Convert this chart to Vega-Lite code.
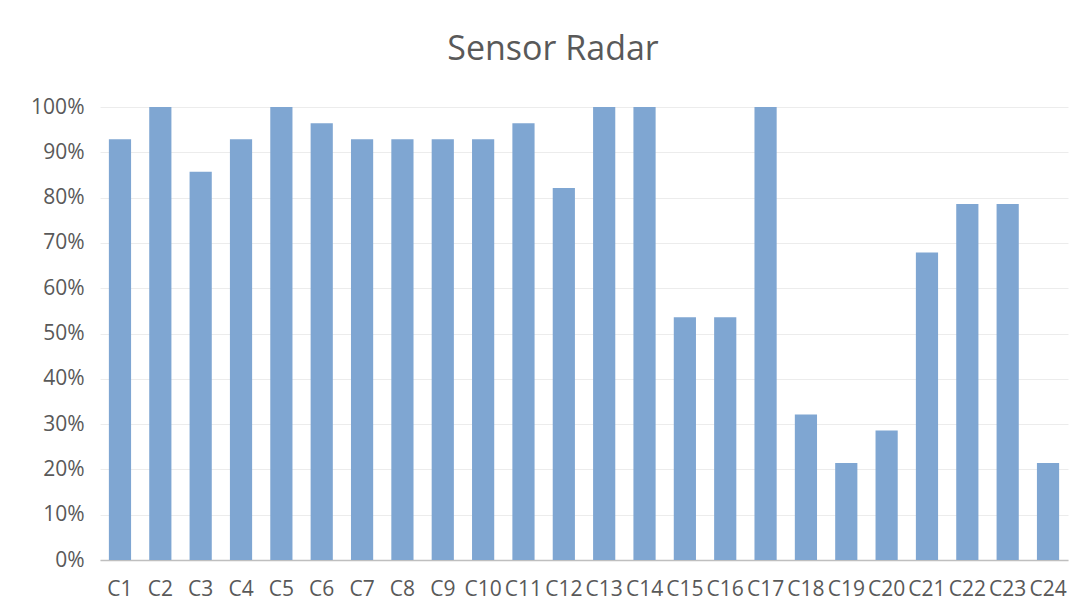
{
  "$schema": "https://vega.github.io/schema/vega-lite/v6.json",
  "width": 968,
  "height": 453,
  "autosize": {"type": "none"},
  "padding": {"left": 100, "top": 107, "right": 20, "bottom": 55},
  "background": "white",
  "title": {"text": "Sensor Radar", "fontSize": 34, "font": "Open Sans", "fontWeight": "normal", "color": "#595959", "anchor": "middle", "offset": 29, "dx": -31},
  "data": {"values": [
    {"c": "C1", "v": 0.929}, {"c": "C2", "v": 1.0}, {"c": "C3", "v": 0.857}, {"c": "C4", "v": 0.929},
    {"c": "C5", "v": 1.0}, {"c": "C6", "v": 0.964}, {"c": "C7", "v": 0.929}, {"c": "C8", "v": 0.929},
    {"c": "C9", "v": 0.929}, {"c": "C10", "v": 0.929}, {"c": "C11", "v": 0.964}, {"c": "C12", "v": 0.821},
    {"c": "C13", "v": 1.0}, {"c": "C14", "v": 1.0}, {"c": "C15", "v": 0.536}, {"c": "C16", "v": 0.536},
    {"c": "C17", "v": 1.0}, {"c": "C18", "v": 0.321}, {"c": "C19", "v": 0.214}, {"c": "C20", "v": 0.286},
    {"c": "C21", "v": 0.679}, {"c": "C22", "v": 0.786}, {"c": "C23", "v": 0.786}, {"c": "C24", "v": 0.214}
  ]},
  "mark": {"type": "bar", "color": "#7fa6d2"},
  "encoding": {
    "x": {"field": "c", "type": "nominal", "sort": null,
      "scale": {"paddingInner": 0.45, "paddingOuter": 0.22},
      "axis": {"title": null, "labelAngle": 0, "labelFontSize": 21, "labelFont": "Open Sans", "labelColor": "#595959", "domainColor": "#bfbfbf", "domainWidth": 1.5, "ticks": false, "labelPadding": 18, "labelOverlap": false}},
    "y": {"field": "v", "type": "quantitative",
      "scale": {"domain": [0, 1]},
      "axis": {"title": null, "format": ".0%", "values": [0,0.1,0.2,0.3,0.4,0.5,0.6,0.7,0.8,0.9,1.0], "labelOverlap": false, "labelFontSize": 21, "labelFont": "Open Sans", "labelColor": "#595959", "domain": false, "ticks": false, "gridColor": "#ececec", "labelPadding": 16}}
  },
  "config": {"view": {"stroke": null}}
}
